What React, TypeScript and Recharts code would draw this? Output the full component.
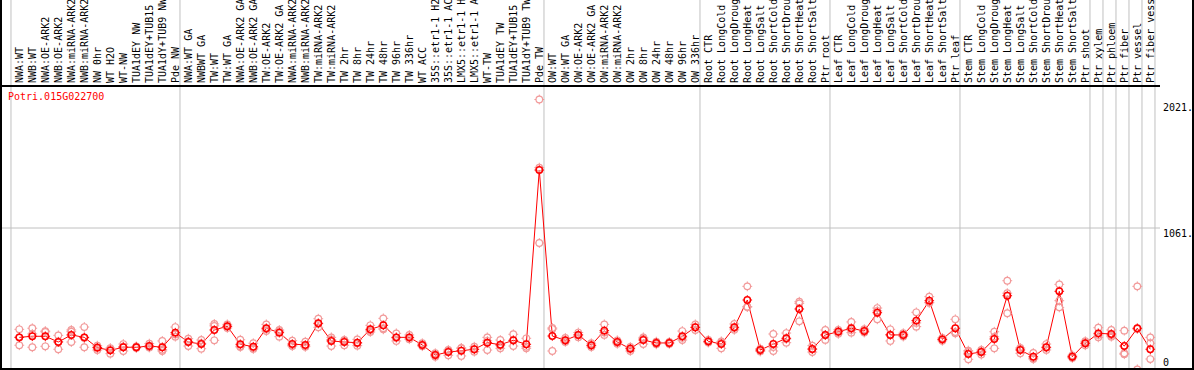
import { FC } from "react";
import { ComposedChart, Line, XAxis, YAxis, ReferenceLine } from "recharts";

const categories = [
  "NWA:WT", "NWB:WT", "NWA:OE-ARK2", "NWB:OE-ARK2", "NWA:miRNA-ARK2", "NWB:miRNA-ARK2",
  "NW 0hr", "WT H2O", "WT-NW", "TUA1dEY NW", "TUA1dEY+TUB15", "TUA1dY+TUB9 NW", "Pde NW",
  "NWA:WT GA", "NWBWT GA", "TW:WT", "TW:WT GA", "NWA:OE-ARK2 GA", "NWB:OE-ARK2 GA",
  "TW:OE-ARK2", "TW:OE-ARK2 GA", "NWA:miRNA-ARK2", "NWB:miRNA-ARK2", "TW:miRNA-ARK2",
  "TW:miRNA-ARK2", "TW 2hr", "TW 8hr", "TW 24hr", "TW 48hr", "TW 96hr", "TW 336hr",
  "WT ACC", "35S::etr1-1 H2O", "35S::etr1-1 ACC", "LMX5::etr1-1 H2O", "LMX5::etr1-1 ACC",
  "WT-TW", "TUA1dEY TW", "TUA1dEY+TUB15", "TUA1dY+TUB9 TW", "Pde TW",
  "OW:WT", "OW:WT GA", "OW:OE-ARK2", "OW:OE-ARK2 GA", "OW:miRNA-ARK2", "OW:miRNA-ARK2",
  "OW 2hr", "OW 8hr", "OW 24hr", "OW 48hr", "OW 96hr", "OW 336hr",
  "Root CTR", "Root LongCold", "Root LongDrought", "Root LongHeat", "Root LongSalt",
  "Root ShortCold", "Root ShortDrought", "Root ShortHeat", "Root ShortSalt", "Ptr root",
  "Leaf CTR", "Leaf LongCold", "Leaf LongDrought", "Leaf LongHeat", "Leaf LongSalt",
  "Leaf ShortCold", "Leaf ShortDrought", "Leaf ShortHeat", "Leaf ShortSalt", "Ptr leaf",
  "Stem CTR", "Stem LongCold", "Stem LongDrought", "Stem LongHeat", "Stem LongSalt",
  "Stem ShortCold", "Stem ShortDrought", "Stem ShortHeat", "Stem ShortSalt", "Ptr shoot",
  "Ptr xylem", "Ptr phloem", "Ptr fiber", "Ptr vessel", "Ptr fiber vessel",
];

const means = [
  244, 252, 252, 209, 262, 244, 167, 147, 170, 170, 179, 170, 279,
  209, 194, 299, 327, 192, 174, 312, 279, 194, 187, 349, 217, 209, 204, 304, 334, 244,
  244, 187, 112, 134, 144, 155, 204, 189, 222, 192, 1494,
  254, 222, 262, 185, 294, 209, 159, 224, 202, 202, 252, 319,
  214, 194, 319, 523, 149, 194, 237, 456, 157, 262,
  286, 312, 291, 428, 262, 262, 369, 518, 229, 312,
  120, 134, 232, 555, 149, 99, 170, 588, 99, 200,
  274, 269, 179, 312, 155,
];

const repHigh = [
  304, 312, 291, 259, 299, 321, 182, 164, 194, 176, 197, 217, 321,
  234, 224, 344, 341, 226, 200, 341, 299, 219, 211, 383, 244, 224, 229, 334, 386, 274,
  262, 200, 125, 150, 162, 174, 244, 224, 267, 237, 2021,
  306, 240, 280, 200, 341, 222, 172, 244, 212, 210, 291, 341,
  225, 214, 344, 625, 160, 269, 276, 510, 182, 299,
  300, 359, 305, 463, 304, 275, 431, 548, 240, 379,
  145, 150, 286, 667, 165, 127, 194, 640, 110, 215,
  316, 299, 294, 625, 244,
];

const repLow = [
  185, 170, 177, 155, 209, 170, 149, 122, 142, 164, 172, 142, 249,
  179, 159, 222, 314, 172, 157, 291, 249, 182, 174, 319, 179, 185, 182, 284, 304, 217,
  230, 178, 99, 110, 105, 137, 149, 162, 179, 162, 949,
  142, 210, 245, 172, 262, 196, 142, 194, 192, 195, 224, 299,
  205, 162, 300, 471, 138, 142, 204, 364, 134, 262,
  270, 279, 280, 379, 217, 250, 324, 503, 218, 274,
  80, 115, 162, 424, 125, 82, 150, 468, 90, 185,
  244, 249, 125, 5, 82,
];

const repMid = [
  244, 270, 285, 212, 286, 240, 170, 155, 175, 170, 168, 152, 266,
  214, 200, 330, 326, 178, 165, 305, 290, 180, 176, 345, 228, 218, 200, 294, 312, 240,
  240, 184, 112, 142, 165, 154, 218, 182, 220, 174, 1512,
  314, 216, 262, 183, 280, 209, 164, 234, 202, 201, 241, 318,
  212, 206, 313, 473, 149, 171, 231, 498, 155, 225,
  288, 298, 288, 442, 265, 262, 352, 503, 229, 283,
  135, 137, 248, 574, 157, 88, 166, 518, 97, 200,
  262, 259, 118, 306, 200,
];

// last category index of each group (divider drawn just after it)
const groupEnds = [-1, 12, 40, 52, 62, 72, 82, 83, 84, 85, 86, 87];

const yTicks = [0, 1061, 2021];
const yTickLabels = ["0", "1061.", "2021."];

const title = "Potri.015G022700";

const data = categories.map((name, i) => ({
  i,
  name,
  mean: means[i],
  r1: repHigh[i],
  r2: repLow[i],
  r3: repMid[i],
}));

const FONT = "DejaVu Sans Mono";
const HEADER = 86;

const Ring = (color: string, r: number, w: number) => (props: any) => {
  const { cx, cy, key } = props;
  if (cy == null || isNaN(cy)) return <g key={key} />;
  const s = r + 1.6;
  return (
    <g key={key}>
      <circle cx={cx} cy={cy} r={r} fill="none" stroke={color} strokeWidth={w} />
      <line x1={cx} y1={cy - s} x2={cx} y2={cy - r} stroke={color} strokeWidth={1} />
      <line x1={cx} y1={cy + r} x2={cx} y2={cy + s} stroke={color} strokeWidth={1} />
      <line x1={cx - s} y1={cy} x2={cx - r} y2={cy} stroke={color} strokeWidth={1} />
      <line x1={cx + r} y1={cy} x2={cx + s} y2={cy} stroke={color} strokeWidth={1} />
    </g>
  );
};

const HeaderTick: FC<any> = ({ x, payload }) => (
  <text
    x={x}
    y={HEADER - 3}
    transform={`rotate(-90 ${x} ${HEADER - 3})`}
    textAnchor="start"
    dominantBaseline="central"
    fontSize={10}
    fontFamily={FONT}
    fill="#000"
  >
    {categories[payload.value]}
  </text>
);

const RightTick: FC<any> = ({ x, y, payload }) => {
  const idx = yTicks.indexOf(payload.value);
  const dy = payload.value === 0 ? -8 : payload.value === 2021 ? 8 : 5;
  return (
    <text x={x} y={y + dy} dominantBaseline="central" fontSize={10} fontFamily={FONT} fill="#000">
      {yTickLabels[idx]}
    </text>
  );
};

const repColor = "#f29a9a";
const meanColor = "#ff0000";

const App: FC = () => {
  return (
    <div style={{ position: "absolute", left: 0, top: 0, width: 1194, height: 370, background: "#fff" }}>
      <ComposedChart width={1194} height={370} data={data} margin={{ top: 0, right: 0, bottom: 0, left: 2 }}>
        <XAxis
          dataKey="i"
          type="number"
          orientation="top"
          height={HEADER}
          domain={[-1.331, 87.746]}
          ticks={data.map((d) => d.i)}
          interval={0}
          tick={<HeaderTick />}
          tickLine={false}
          axisLine={{ stroke: "#000", strokeWidth: 2 }}
          allowDataOverflow
        />
        <YAxis
          orientation="right"
          width={34}
          domain={[0, 2122]}
          ticks={yTicks}
          interval={0}
          tick={<RightTick />}
          tickLine={false}
          tickSize={0}
          tickMargin={3}
          axisLine={false}
          allowDataOverflow
        />
        <ReferenceLine y={1061} stroke="#c0c0c0" strokeWidth={1} />
        {groupEnds.map((k) => (
          <ReferenceLine
            key={k}
            segment={[{ x: k + 0.36, y: -20 }, { x: k + 0.36, y: 2900 }]}
            stroke="#c0c0c0"
            strokeWidth={1}
            ifOverflow="visible"
          />
        ))}
        <Line dataKey="r1" stroke="none" dot={Ring(repColor, 3.3, 1.2)} activeDot={false} isAnimationActive={false} />
        <Line dataKey="r2" stroke="none" dot={Ring(repColor, 3.3, 1.2)} activeDot={false} isAnimationActive={false} />
        <Line dataKey="r3" stroke="none" dot={Ring(repColor, 3.3, 1.2)} activeDot={false} isAnimationActive={false} />
        <Line
          dataKey="mean"
          type="linear"
          stroke={meanColor}
          strokeWidth={1}
          dot={Ring(meanColor, 3.2, 1.5)}
          activeDot={false}
          isAnimationActive={false}
        />
      </ComposedChart>
      <div
        style={{
          position: "absolute",
          left: 8,
          top: 91,
          fontFamily: FONT,
          fontSize: 10,
          lineHeight: "12px",
          color: "#ff0000",
          whiteSpace: "nowrap",
        }}
      >
        {title}
      </div>
      <div
        style={{
          position: "absolute",
          left: 0,
          top: 0,
          width: 1194,
          height: 370,
          boxSizing: "border-box",
          borderLeft: "2px solid #000",
          borderRight: "2px solid #000",
          borderBottom: "2px solid #000",
          pointerEvents: "none",
        }}
      />
    </div>
  );
};

export default App;
